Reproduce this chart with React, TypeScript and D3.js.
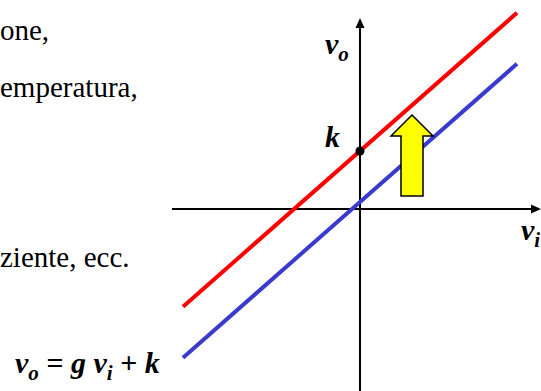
import { useEffect, useRef } from "react";
import * as d3 from "d3";

// transfer characteristic v_o = g v_i + k
const gain = 0.88;
const offsets = [1.16, 0.14]; // shifted line (k), original line
const viRange = [-3.54, 3.14];
const kDot = 1.16;

// arrow showing the upward shift
const shiftVi = 1.04;
const shiftFrom = 0.26;
const shiftTo = 1.88;

// text fragments on the left (clipped slide text)
const bodyLines = ["one,", "emperatura,", "ziente, ecc."];
const bodyRows = [40, 97, 267];

function App() {
  const ref = useRef<SVGSVGElement>(null);

  useEffect(() => {
    const width = 541;
    const height = 391;
    const svg = d3.select(ref.current);
    svg.selectAll("*").remove();

    const x = d3.scaleLinear().domain([-1, 1]).range([310, 410]);
    const y = d3.scaleLinear().domain([-1, 1]).range([259, 159]);

    // axes with arrow heads
    svg
      .append("line")
      .attr("x1", 172)
      .attr("x2", width - 9)
      .attr("y1", y(0))
      .attr("y2", y(0))
      .attr("stroke", "#000")
      .attr("stroke-width", 2);
    svg
      .append("path")
      .attr("d", `M${width - 10},${y(0) - 4.5}L${width},${y(0)}L${width - 10},${y(0) + 4.5}Z`)
      .attr("fill", "#000");
    svg
      .append("line")
      .attr("x1", x(0))
      .attr("x2", x(0))
      .attr("y1", height)
      .attr("y2", 27)
      .attr("stroke", "#000")
      .attr("stroke-width", 2);
    svg
      .append("path")
      .attr("d", `M${x(0) - 4.5},28L${x(0)},18L${x(0) + 4.5},28Z`)
      .attr("fill", "#000");

    // characteristic lines
    const colors = ["#ff0000", "#3a3acc"];
    offsets.forEach((k, i) => {
      svg
        .append("path")
        .datum(viRange)
        .attr("d", d3.line<number>().x((d) => x(d)).y((d) => y(gain * d + k)))
        .attr("fill", "none")
        .attr("stroke", colors[i])
        .attr("stroke-width", 4);
    });

    svg
      .append("circle")
      .attr("cx", x(0))
      .attr("cy", y(kDot))
      .attr("r", 4.5)
      .attr("fill", "#000");

    // yellow arrow
    const cx = x(shiftVi);
    const top = y(shiftTo);
    const bottom = y(shiftFrom);
    const arrow = d3.path();
    arrow.moveTo(cx, top);
    arrow.lineTo(cx + 21, top + 21);
    arrow.lineTo(cx + 11, top + 21);
    arrow.lineTo(cx + 11, bottom);
    arrow.lineTo(cx - 11, bottom);
    arrow.lineTo(cx - 11, top + 21);
    arrow.lineTo(cx - 21, top + 21);
    arrow.closePath();
    svg
      .append("path")
      .attr("d", arrow.toString())
      .attr("fill", "#ffff00")
      .attr("stroke", "#000")
      .attr("stroke-width", 1.5);

    // body text
    bodyLines.forEach((t, i) => {
      svg
        .append("text")
        .attr("x", 0)
        .attr("y", bodyRows[i])
        .attr("font-size", 29)
        .text(t);
    });

    // math labels
    const math = (tx: number, ty: number) =>
      svg
        .append("text")
        .attr("x", tx)
        .attr("y", ty)
        .attr("font-style", "italic")
        .attr("font-weight", "bold")
        .attr("font-size", 30);

    const vo = math(325, 54);
    vo.append("tspan").text("v");
    vo.append("tspan").attr("font-size", 21).attr("dy", 7).text("o");

    math(325, 147).text("k");

    const vi = math(521, 240);
    vi.append("tspan").text("v");
    vi.append("tspan").attr("font-size", 21).attr("dy", 7).text("i");

    const eq = math(15, 373);
    eq.append("tspan").text("v");
    eq.append("tspan").attr("font-size", 21).attr("dy", 7).text("o");
    eq.append("tspan").attr("dy", -7).text(" = g v");
    eq.append("tspan").attr("font-size", 21).attr("dy", 7).text("i");
    eq.append("tspan").attr("dy", -7).text(" + k");
  }, []);

  return (
    <svg
      ref={ref}
      width={541}
      height={391}
      style={{ position: "absolute", left: 0, top: 0, fontFamily: "'Liberation Serif', 'Times New Roman', serif" }}
    />
  );
}

export default App;
